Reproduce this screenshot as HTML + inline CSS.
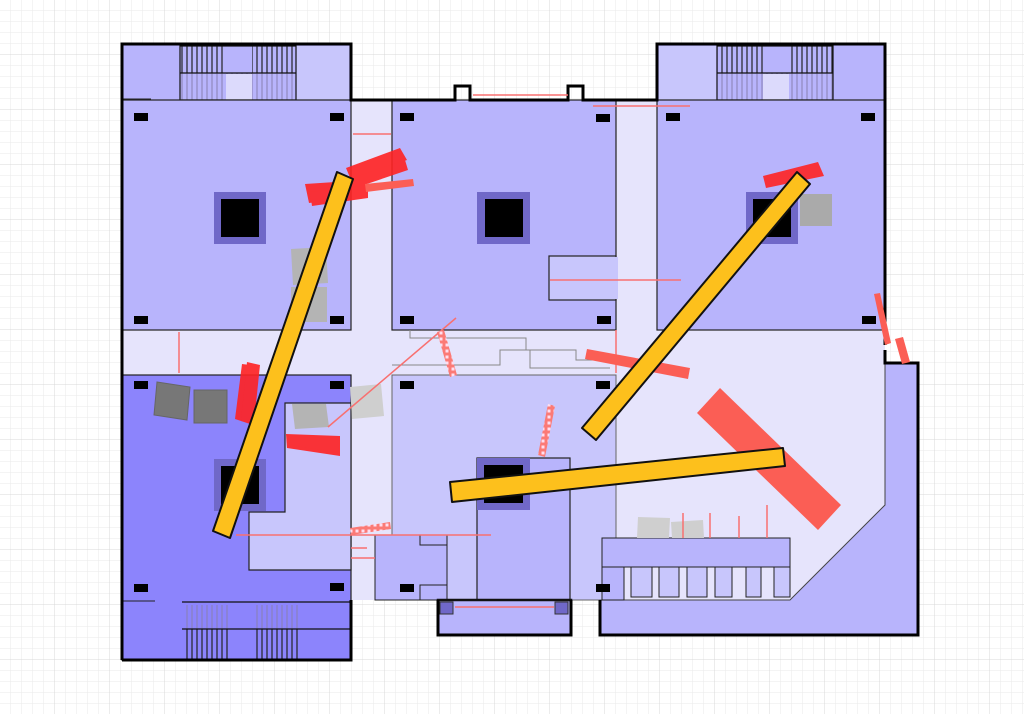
<!DOCTYPE html>
<html><head><meta charset="utf-8"><style>html,body{margin:0;padding:0;background:#fff}svg{display:block}</style></head>
<body>
<svg width="1024" height="714" viewBox="0 0 1024 714" xmlns="http://www.w3.org/2000/svg">
<defs>
<pattern id="g" width="11" height="11" patternUnits="userSpaceOnUse"><path d="M11 0V11H0" fill="none" stroke="#eaeaea" stroke-width="1"/></pattern>
<pattern id="G" width="55" height="55" patternUnits="userSpaceOnUse"><rect width="55" height="55" fill="url(#g)"/><path d="M55 0V55H0" fill="none" stroke="#d8d8d8" stroke-width="1"/></pattern>
<pattern id="st" width="5" height="10" patternUnits="userSpaceOnUse"><line x1="2" y1="0" x2="2" y2="10" stroke="#222" stroke-width="1.2"/></pattern>
<pattern id="st2" width="5" height="10" patternUnits="userSpaceOnUse"><line x1="2" y1="0" x2="2" y2="10" stroke="#8880b0" stroke-width="1"/></pattern>
<pattern id="lad" width="6" height="6" patternUnits="userSpaceOnUse"><rect width="6" height="6" fill="#fb7a76"/><rect x="1.5" y="1.5" width="3" height="3" fill="#fde"/></pattern>
</defs>
<rect width="1024" height="714" fill="url(#G)"/>

<!-- light corridors -->
<rect x="122" y="100" width="763" height="500" fill="#e6e4fc"/>

<!-- top-left block -->
<rect x="122" y="44" width="229" height="56" fill="#b8b4fc"/>
<rect x="296" y="46" width="53" height="54" fill="#c8c6fc"/>
<rect x="180" y="46" width="116" height="27" fill="url(#st)"/>
<rect x="226" y="46" width="26" height="27" fill="#b8b4fc"/>
<rect x="180" y="73" width="116" height="27" fill="url(#st2)"/>
<rect x="226" y="74" width="26" height="26" fill="#dcdafc"/>
<rect x="180" y="46" width="116" height="54" fill="none" stroke="#111" stroke-width="1.2"/>
<line x1="180" y1="73" x2="296" y2="73" stroke="#111" stroke-width="1.2"/>
<rect x="122" y="100" width="229" height="230" fill="#b8b4fc" stroke="#222" stroke-width="1.2"/>
<line x1="122" y1="99" x2="151" y2="99" stroke="#222"/>

<!-- top-middle -->
<rect x="392" y="100" width="224" height="230" fill="#b8b4fc" stroke="#222" stroke-width="1.2"/>
<rect x="549" y="256" width="67" height="44" fill="#c8c6fc" stroke="#222" stroke-width="1.2"/>
<rect x="615" y="257" width="3" height="42" fill="#c8c6fc"/>

<!-- top-right -->
<rect x="657" y="44" width="228" height="56" fill="#b8b4fc"/>
<rect x="659" y="46" width="58" height="54" fill="#c8c6fc"/>
<rect x="717" y="46" width="116" height="27" fill="url(#st)"/>
<rect x="763" y="46" width="26" height="27" fill="#b8b4fc"/>
<rect x="717" y="73" width="116" height="27" fill="url(#st2)"/>
<rect x="763" y="74" width="26" height="26" fill="#dcdafc"/>
<rect x="717" y="46" width="116" height="54" fill="none" stroke="#111" stroke-width="1.2"/>
<line x1="717" y1="73" x2="833" y2="73" stroke="#111" stroke-width="1.2"/>
<rect x="657" y="100" width="228" height="230" fill="#b8b4fc" stroke="#222" stroke-width="1.2"/>
<line x1="862" y1="100" x2="885" y2="100" stroke="#222"/>

<!-- corridor steps middle -->
<path d="M410 330V338H526V350H576V360H616" fill="none" stroke="#888" stroke-width="1"/>
<path d="M392 365H500V350H530V368H610" fill="none" stroke="#888" stroke-width="1"/>

<!-- bottom-left dark block -->
<rect x="122" y="375" width="229" height="285" fill="#8c84fc" stroke="#222" stroke-width="1.2"/>
<path d="M285 403H351V570H249V512H285Z" fill="#c8c6fc" stroke="#222" stroke-width="1.2"/>
<line x1="122" y1="601" x2="155" y2="601" stroke="#222"/>
<line x1="182" y1="602" x2="351" y2="602" stroke="#111" stroke-width="1.2"/>
<rect x="183" y="605" width="117" height="24" fill="url(#st2)"/>
<rect x="183" y="629" width="117" height="30" fill="url(#st)"/>
<rect x="230" y="604" width="25" height="55" fill="#8c84fc"/>
<line x1="182" y1="629" x2="351" y2="629" stroke="#111" stroke-width="1.2"/>

<!-- bottom-middle -->
<rect x="392" y="375" width="224" height="225" fill="#c8c6fc" stroke="#666" stroke-width="1"/>
<rect x="375" y="535" width="72" height="65" fill="#b8b4fc" stroke="#222" stroke-width="1"/>
<path d="M420 535V545H447V585H420V600" fill="none" stroke="#222"/>
<rect x="477" y="458" width="93" height="142" fill="#b8b4fc" stroke="#222" stroke-width="1.2"/>
<rect x="438" y="600" width="133" height="35" fill="#b8b4fc" stroke="#111" stroke-width="2.5"/>
<rect x="440" y="602" width="13" height="12" fill="#7068c8" stroke="#333"/>
<rect x="555" y="602" width="13" height="12" fill="#7068c8" stroke="#333"/>
<line x1="455" y1="607" x2="554" y2="607" stroke="#f87070" stroke-width="1.5"/>

<!-- bottom-right -->
<path d="M885 363H918V635H600V600H790L885 505Z" fill="#b8b4fc" stroke="#444" stroke-width="1"/>
<path d="M602 538H790V567H602Z" fill="#b8b4fc" stroke="#222"/>
<g fill="#c8c6fc" stroke="#222">
<rect x="631" y="567" width="21" height="30"/><rect x="659" y="567" width="20" height="30"/><rect x="687" y="567" width="20" height="30"/><rect x="715" y="567" width="17" height="30"/><rect x="746" y="567" width="15" height="30"/><rect x="774" y="567" width="16" height="30"/>
</g>
<rect x="602" y="567" width="22" height="33" fill="#b8b4fc" stroke="#222"/>

<!-- thick outline -->
<path d="M122 660V44H351V100H455V86H470V100H568V86H583V100H657V44H885V345" fill="none" stroke="#000" stroke-width="3"/>
<path d="M885 350V363H918V635H600V600" fill="none" stroke="#000" stroke-width="3"/>
<path d="M571 600V635H438V600" fill="none" stroke="#000" stroke-width="3"/>
<path d="M351 600V660H122" fill="none" stroke="#000" stroke-width="3"/>

<!-- pillars -->
<g fill="#7068c8"><rect x="214" y="192" width="52" height="52"/><rect x="477" y="192" width="53" height="52"/><rect x="746" y="192" width="52" height="52"/><rect x="214" y="459" width="52" height="52"/><rect x="477" y="458" width="53" height="52"/></g>
<g fill="#000"><rect x="221" y="199" width="38" height="38"/><rect x="485" y="199" width="38" height="38"/><rect x="753" y="199" width="38" height="38"/><rect x="221" y="466" width="38" height="38"/><rect x="484" y="465" width="39" height="38"/></g>

<!-- small black rects -->
<g fill="#000">
<rect x="134" y="113" width="14" height="8"/><rect x="330" y="113" width="14" height="8"/><rect x="134" y="316" width="14" height="8"/><rect x="330" y="316" width="14" height="8"/>
<rect x="400" y="113" width="14" height="8"/><rect x="596" y="114" width="14" height="8"/><rect x="400" y="316" width="14" height="8"/><rect x="597" y="316" width="14" height="8"/>
<rect x="666" y="113" width="14" height="8"/><rect x="861" y="113" width="14" height="8"/><rect x="862" y="316" width="14" height="8"/>
<rect x="134" y="381" width="14" height="8"/><rect x="330" y="381" width="14" height="8"/><rect x="134" y="584" width="14" height="8"/><rect x="330" y="583" width="14" height="8"/>
<rect x="400" y="381" width="14" height="8"/><rect x="596" y="381" width="14" height="8"/><rect x="400" y="584" width="14" height="8"/><rect x="596" y="584" width="14" height="8"/>
</g>

<!-- gray boxes -->
<g fill="#777" stroke="#666"><polygon points="157,382 190,387 187,420 154,415"/><rect x="194" y="390" width="33" height="33"/></g>
<g fill="#b4b4b4"><polygon points="291,249 326,247 328,283 293,285"/><rect x="291" y="287" width="36" height="35"/><polygon points="292,404 326,404 329,427 295,429"/><rect x="800" y="194" width="32" height="32" fill="#aaa"/></g>
<g fill="#cfcfcf"><polygon points="350,387 381,384 384,416 352,419"/><polygon points="638,517 670,518 669,538 637,538"/><polygon points="671,522 703,520 704,538 672,538"/></g>

<!-- red thin lines -->
<g stroke="#f87070" stroke-width="1.5" fill="none">
<line x1="473" y1="95" x2="568" y2="95"/>
<line x1="353" y1="134" x2="391" y2="134"/>
<line x1="593" y1="106" x2="690" y2="106"/>
<line x1="550" y1="280" x2="681" y2="280"/>
<line x1="179" y1="332" x2="179" y2="373"/>
<line x1="616" y1="330" x2="616" y2="373"/>
<line x1="328" y1="427" x2="456" y2="318"/>
<line x1="236" y1="535" x2="491" y2="535"/>
<line x1="351" y1="548" x2="367" y2="548"/>
<line x1="351" y1="558" x2="375" y2="558"/>
<line x1="683" y1="513" x2="683" y2="538"/>
<line x1="710" y1="513" x2="710" y2="538"/>
<line x1="739" y1="516" x2="739" y2="538"/>
<line x1="767" y1="505" x2="767" y2="538"/>
</g>
<!-- ladders -->
<polygon points="437,332 444,330 457,375 450,377" fill="url(#lad)"/>
<polygon points="548,404 555,406 545,457 538,455" fill="url(#lad)"/>
<polygon points="350,528 390,522 391,529 351,535" fill="url(#lad)"/>

<!-- red strokes -->
<g fill="#f22" opacity="0.9">
<polygon points="346,168 400,148 407,160 351,180"/>
<polygon points="352,178 405,160 408,170 355,188"/>
<polygon points="305,184 366,180 367,196 309,203"/>
<polygon points="310,192 368,185 368,198 312,206"/>
<polygon points="763,176 818,162 824,176 766,188"/>
<polygon points="242,364 258,366 250,424 235,419"/>
<polygon points="247,362 260,365 254,423 241,421"/>
<polygon points="286,434 340,436 340,456 287,448"/>
<polygon points="287,440 340,440 338,452 288,445"/>
</g>
<g fill="#fb5e55">
<polygon points="365,184 413,179 414,186 366,192"/>
<polygon points="587,349 690,368 688,379 585,359"/>
<polygon points="874,294 880,293 891,343 885,345"/>
<polygon points="895,339 903,337 910,362 902,364"/>
<polygon points="697,413 720,388 841,505 818,530"/>
</g>

<!-- yellow bars -->
<g fill="#fdc01c" stroke="#111" stroke-width="2" stroke-linejoin="round">
<polygon points="337,172 353,179 230,538 213,531"/>
<polygon points="797,172 810,184 596,440 582,428"/>
<polygon points="450,482 783,448 785,466 452,502"/>
</g>
</svg>
</body></html>
